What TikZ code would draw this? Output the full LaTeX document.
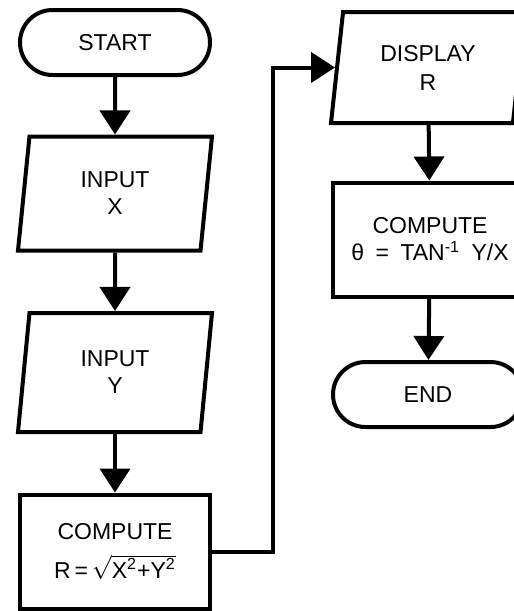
\documentclass[tikz,border=0pt]{standalone}
\usepackage{fontspec}
\setmainfont{Liberation Sans}
\usetikzlibrary{shapes.geometric,shapes.misc,arrows.meta}

\begin{document}
\begin{tikzpicture}[x=0.5pt,y=-0.5pt,
  font=\fontsize{11.5}{13.5}\selectfont,
  term/.style={draw,line width=2pt,rounded rectangle,minimum width=95pt,minimum height=32.5pt,inner sep=0pt},
  io/.style={draw,line width=2pt,trapezium,trapezium left angle=75,trapezium right angle=105,trapezium stretches body,minimum width=97pt,minimum height=57pt,align=center,inner sep=0pt},
  proc/.style={draw,line width=2pt,rectangle,minimum width=95pt,minimum height=57pt,align=center,inner sep=0pt},
  flow/.style={line width=2pt,-{Triangle[width=15pt,length=12pt]}}]
\useasboundingbox (0,0) rectangle (514,611);
\clip (0,0) rectangle (514,611);
\node[term] (start) at (115,42.5) {START};
\node[io] (inx) at (115,193.5) {INPUT\\X};
\node[io,minimum height=59.5pt] (iny) at (115,372.5) {INPUT\\Y};
\node[proc] (compr) at (115,551.5) {COMPUTE\\[6pt]R\,=\,$\sqrt{\rule{0pt}{10pt}\mbox{X\textsuperscript{2}+Y\textsuperscript{2}}}$};
\node[io,minimum height=55.5pt] (disp) at (428,67.5) {DISPLAY\\[1pt]R};
\node[proc,minimum width=97pt] (compt) at (430,239.5) {COMPUTE\\θ\enspace=\enspace TAN\textsuperscript{-1}\enspace Y/X};
\node[term] (end) at (428,394.5) {END};
\coordinate (bend) at (273,0);
\draw[flow] (start) -- (inx);
\draw[flow] (inx) -- (iny);
\draw[flow] (iny) -- (compr);
\draw[flow] (compr) -- (compr -| bend) |- (disp);
\draw[flow] (disp) -- (compt);
\draw[flow] (compt) -- (end);
\end{tikzpicture}
\end{document}
